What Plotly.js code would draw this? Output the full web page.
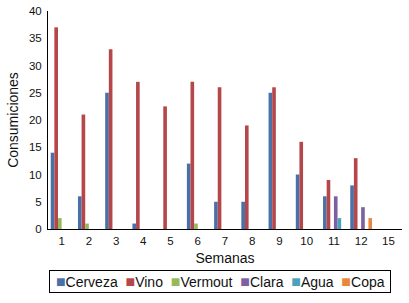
<!DOCTYPE html>
<html>
<head>
<meta charset="utf-8">
<script src="https://cdn.plot.ly/plotly-3.0.1.min.js"></script>
<style>html,body{margin:0;padding:0;background:#fff;}#chart{width:409px;height:303px;}</style>
</head>
<body>
<div id="chart"></div>
<script>
const semanas = ["1","2","3","4","5","6","7","8","9","10","11","12","15"];
const seriesNames = ["Cerveza","Vino","Vermout","Clara","Agua","Copa"];
const seriesColors = ["#4A70A8","#B5474A","#97B95A","#7D60A0","#4AA3BB","#E8883F"];
const cerveza = [14, 6, 25, 1, 0, 12, 5, 5, 25, 10, 6, 8, 0];
const vino    = [37, 21, 33, 27, 22.5, 27, 26, 19, 26, 16, 9, 13, 0];
const vermout = [2, 1, 0, 0, 0, 1, 0, 0, 0, 0, 0, 0, 0];
const clara   = [0, 0, 0, 0, 0, 0, 0, 0, 0, 0, 6, 4, 0];
const agua    = [0, 0, 0, 0, 0, 0, 0, 0, 0, 0, 2, 0, 0];
const copa    = [0, 0, 0, 0, 0, 0, 0, 0, 0, 0, 0, 2, 0];
const seriesValues = [cerveza, vino, vermout, clara, agua, copa];

const font = "Liberation Sans, Arial, Helvetica, sans-serif";

const traces = seriesValues.map((vals, i) => ({
  type: "bar",
  name: seriesNames[i],
  x: semanas,
  y: vals,
  marker: {color: seriesColors[i], line: {width: 0}},
  showlegend: false,
  hoverinfo: "x+y+name"
}));

const legendText = "\u00a0" + seriesNames.map((n, i) =>
  `<span style="color:${seriesColors[i]};font-size:16px">■</span>${n}`).join("\u00a0\u00a0") + "\u00a0";

const layout = {
  width: 409, height: 303,
  margin: {l: 48, r: 7, t: 10.5, b: 74},
  paper_bgcolor: "#fff", plot_bgcolor: "#fff",
  font: {family: font, size: 11, color: "#111"},
  barmode: "group",
  bargap: 0.2,
  bargroupgap: 0,
  xaxis: {
    type: "category",
    automargin: true,
    showline: true, linecolor: "#000", linewidth: 1,
    showgrid: false, zeroline: false, ticks: "",
    tickfont: {size: 11.5, color: "#111"},
    ticklabelstandoff: 1,
    title: {text: "Semanas", font: {size: 14, color: "#111"}, standoff: 7}
  },
  yaxis: {
    range: [0, 40], dtick: 5,
    showline: true, linecolor: "#000", linewidth: 1,
    showgrid: false, zeroline: false, ticks: "",
    tickfont: {size: 11.5, color: "#111"},
    ticklabelstandoff: 3,
    title: {text: "Consumiciones", font: {size: 14, color: "#111"}, standoff: 7}
  },
  annotations: [{
    xref: "paper", yref: "paper",
    x: 0.4845, y: -0.2426,
    xanchor: "center", yanchor: "middle",
    showarrow: false,
    text: legendText,
    font: {size: 14, color: "#111", family: font},
    bordercolor: "#000", borderwidth: 1, borderpad: 2,
    bgcolor: "#fff"
  }]
};

Plotly.newPlot("chart", traces, layout, {displayModeBar: false, staticPlot: true});
</script>
</body>
</html>
